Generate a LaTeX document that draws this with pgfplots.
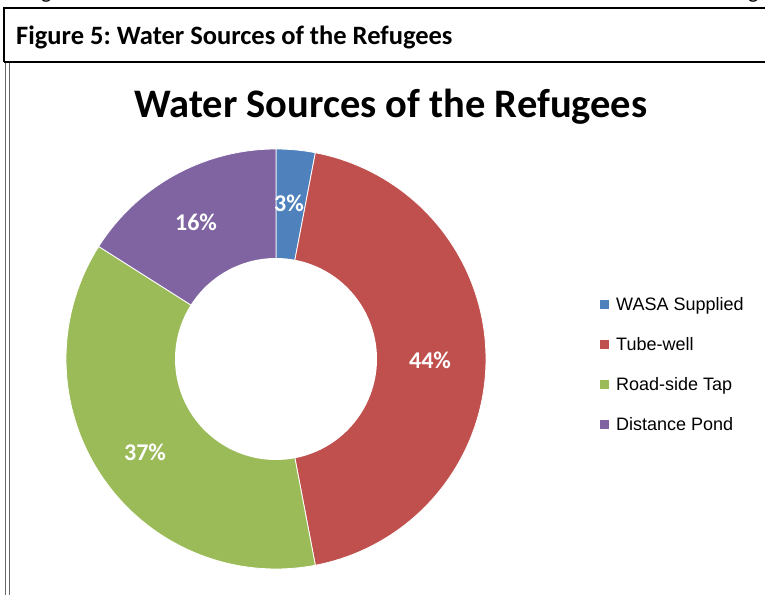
\documentclass[border=0pt]{standalone}
\usepackage{fontspec}
\setmainfont{Carlito}
\newfontfamily\legendfont{Liberation Sans}
\usepackage{pgfplots}
\usepackage{pgfplotstable}
\pgfplotsset{compat=1.18}
\frenchspacing
\definecolor{c0}{HTML}{4F81BD}
\definecolor{c1}{HTML}{C0504D}
\definecolor{c2}{HTML}{9BBB59}
\definecolor{c3}{HTML}{8064A2}
\pgfplotstableread{
label value
WASA 3
Tube 44
Road 37
Pond 16
}\datatable
\begin{document}
\begin{tikzpicture}[x=1pt,y=1pt]
\useasboundingbox (0,0) rectangle (765,594);
% cut-off line of text above
\node[anchor=base west, inner sep=0pt, font=\fontsize{22}{22}\selectfont] at (41,595) {g};
\node[anchor=base west, inner sep=0pt, font=\fontsize{22}{22}\selectfont] at (748,595) {g};
% caption box
\draw[line width=2pt] (4,586) -- (766,586);
\draw[line width=1.5pt] (4,587) -- (4,532);
\draw[line width=2pt] (4,532) -- (766,532);
\node[anchor=base west, inner sep=0pt, font=\bfseries\fontsize{26.5}{28}\selectfont] at (16,549) {Figure 5: Water Sources of the Refugees};
% chart frame double left border
\draw[line width=1.2pt, black!60] (5.5,531) -- (5.5,-2);
\draw[line width=1.2pt, black!60] (9.5,531) -- (9.5,-2);
\begin{axis}[at={(0,0)}, anchor=south west, x=1pt, y=1pt,
  xmin=0, xmax=765, ymin=0, ymax=594, hide axis, clip=false,
  legend style={at={(axis cs:597,301)}, anchor=north west, draw=none, fill=none,
    font=\legendfont\fontsize{18}{18}\selectfont, row sep=21.5pt, column sep=5pt,
    cells={anchor=west}},
  legend image code/.code={\fill[#1, draw=none] (0pt,-4.5pt) rectangle (9pt,4.5pt);},
]
\def\cum{0}
\pgfplotsforeachungrouped \i in {0,...,3}{%
  \pgfplotstablegetelem{\i}{value}\of\datatable
  \let\v\pgfplotsretval
  \pgfmathsetmacro\nxt{\cum+\v}%
  \edef\tmp{\noexpand\addplot[fill=c\i, draw=white, line width=0.8pt, domain=\cum:\nxt, samples=90]
    ({276+210*cos(90-3.6*x)}, {235+210*sin(90-3.6*x)}) -- (axis cs:276,235) -- cycle;}%
  \tmp
  \global\let\cum\nxt
}
\addplot[forget plot, fill=white, draw=none, domain=0:360, samples=120]
  ({276+101*cos(x)}, {235+101*sin(x)}) -- cycle;
\legend{WASA Supplied, Tube-well, Road-side Tap, Distance Pond}
\node[font=\bfseries\fontsize{40.5}{44}\selectfont, anchor=base] at (axis cs:391,476) {Water Sources of the Refugees};
\begin{scope}[every node/.style={text=white, font=\bfseries\fontsize{24}{24}\selectfont}]
\node at (axis cs:289,391) {3\%};
\node at (axis cs:196,372) {16\%};
\node at (axis cs:430,234) {44\%};
\node at (axis cs:145,142) {37\%};
\end{scope}
\end{axis}
\end{tikzpicture}
\end{document}
